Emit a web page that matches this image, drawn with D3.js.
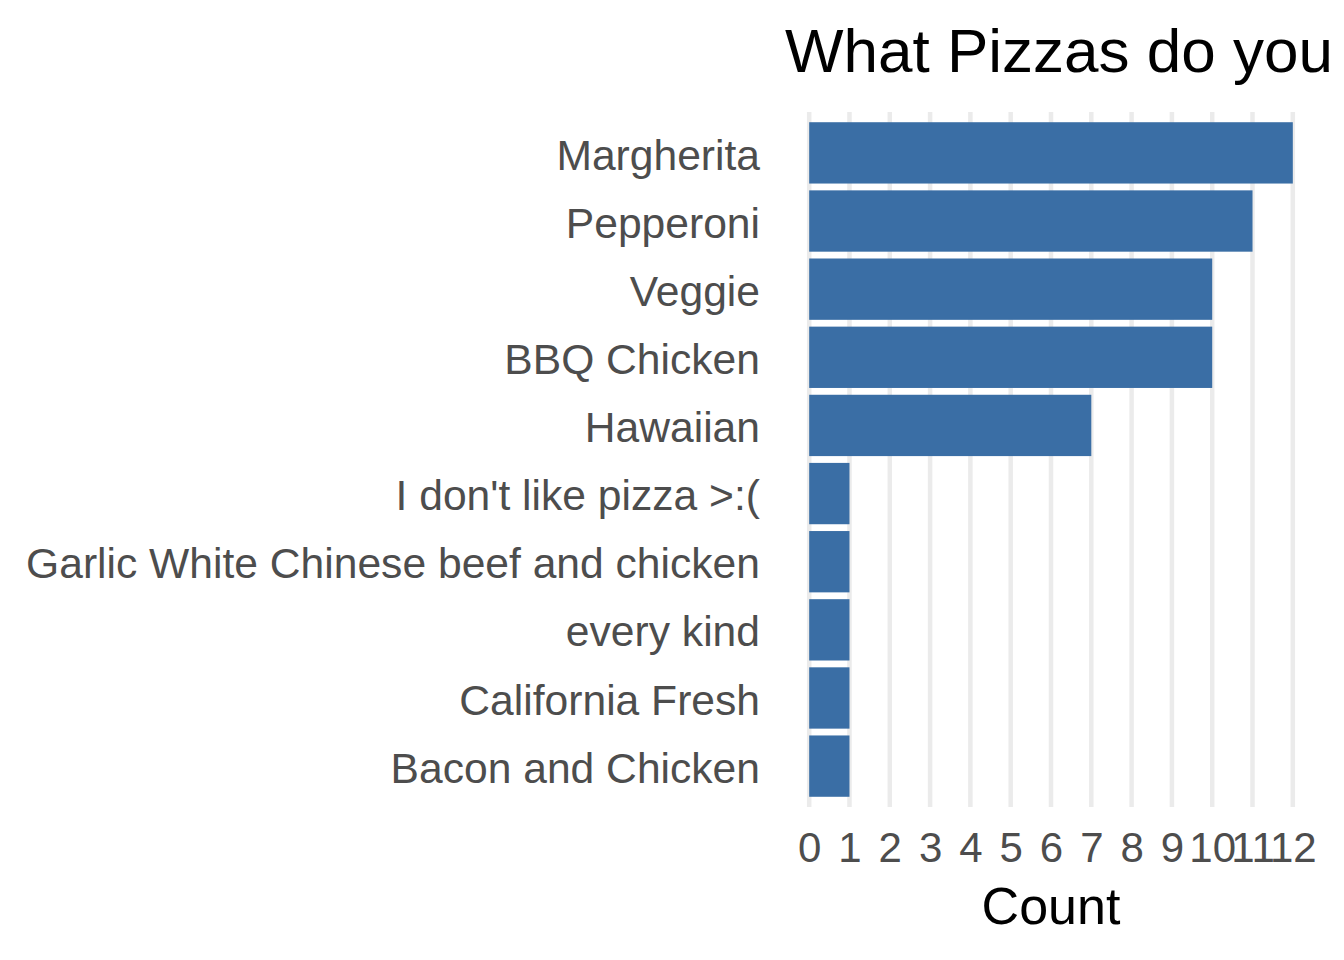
<!DOCTYPE html>
<html>
<head>
<meta charset="utf-8">
<script src="https://cdn.jsdelivr.net/npm/d3@7"></script>
<style>
  html, body { margin: 0; padding: 0; background: #fff; overflow: hidden; }
  svg { display: block; }
</style>
</head>
<body>
<svg id="chart" width="1344" height="960"></svg>
<script>
const categories = ["Margherita", "Pepperoni", "Veggie", "BBQ Chicken", "Hawaiian",
  "I don't like pizza >:(", "Garlic White Chinese beef and chicken", "every kind",
  "California Fresh", "Bacon and Chicken"];
const counts = [12, 11, 10, 10, 7, 1, 1, 1, 1, 1];
const xTicks = [0, 1, 2, 3, 4, 5, 6, 7, 8, 9, 10, 11, 12];
const titleText = "What Pizzas do you like?";
const xTitle = "Count";

const svg = d3.select("#chart");
const font = "'Liberation Sans', Arial, Helvetica, sans-serif";

const panel = { left: 785, right: 1317, top: 112, bottom: 807 };

const x = d3.scaleLinear().domain([-0.6, 12.6]).range([panel.left, panel.right]);
const y = d3.scaleBand().domain(categories).range([panel.top, panel.bottom])
  .paddingInner(0.1).paddingOuter(0.15);

// gridlines
svg.append("g").selectAll("line").data(xTicks).join("line")
  .attr("x1", d => x(d)).attr("x2", d => x(d))
  .attr("y1", panel.top).attr("y2", panel.bottom)
  .attr("stroke", "#ebebeb").attr("stroke-width", 4.5);

// bars
svg.append("g").selectAll("rect").data(categories).join("rect")
  .attr("x", x(0))
  .attr("y", d => y(d))
  .attr("width", (d, i) => x(counts[i]) - x(0))
  .attr("height", y.bandwidth())
  .attr("fill", "#3a6ea5");

// x axis
const xAxis = d3.axisBottom(x).tickValues(xTicks).tickSize(0).tickPadding(0);
const gx = svg.append("g").attr("transform", `translate(0,${panel.bottom + 18})`).call(xAxis);
gx.select(".domain").remove();
gx.selectAll("text").attr("font-family", font).attr("font-size", 42)
  .attr("fill", "#4d4d4d").attr("dy", "0.71em").attr("y", 7);

// y axis
const yAxis = d3.axisLeft(y).tickSize(0).tickPadding(25);
const gy = svg.append("g").attr("transform", `translate(${panel.left},3)`).call(yAxis);
gy.select(".domain").remove();
gy.selectAll("text").attr("font-family", font).attr("font-size", 42.6)
  .attr("fill", "#4d4d4d");

// axis title
svg.append("text")
  .attr("x", (panel.left + panel.right) / 2).attr("y", 924)
  .attr("text-anchor", "middle")
  .attr("font-family", font).attr("font-size", 52)
  .attr("fill", "#000").text(xTitle);

// title
svg.append("text")
  .attr("x", panel.left).attr("y", 72)
  .attr("font-family", font).attr("font-size", 62)
  .attr("fill", "#000").text(titleText);
</script>
</body>
</html>
